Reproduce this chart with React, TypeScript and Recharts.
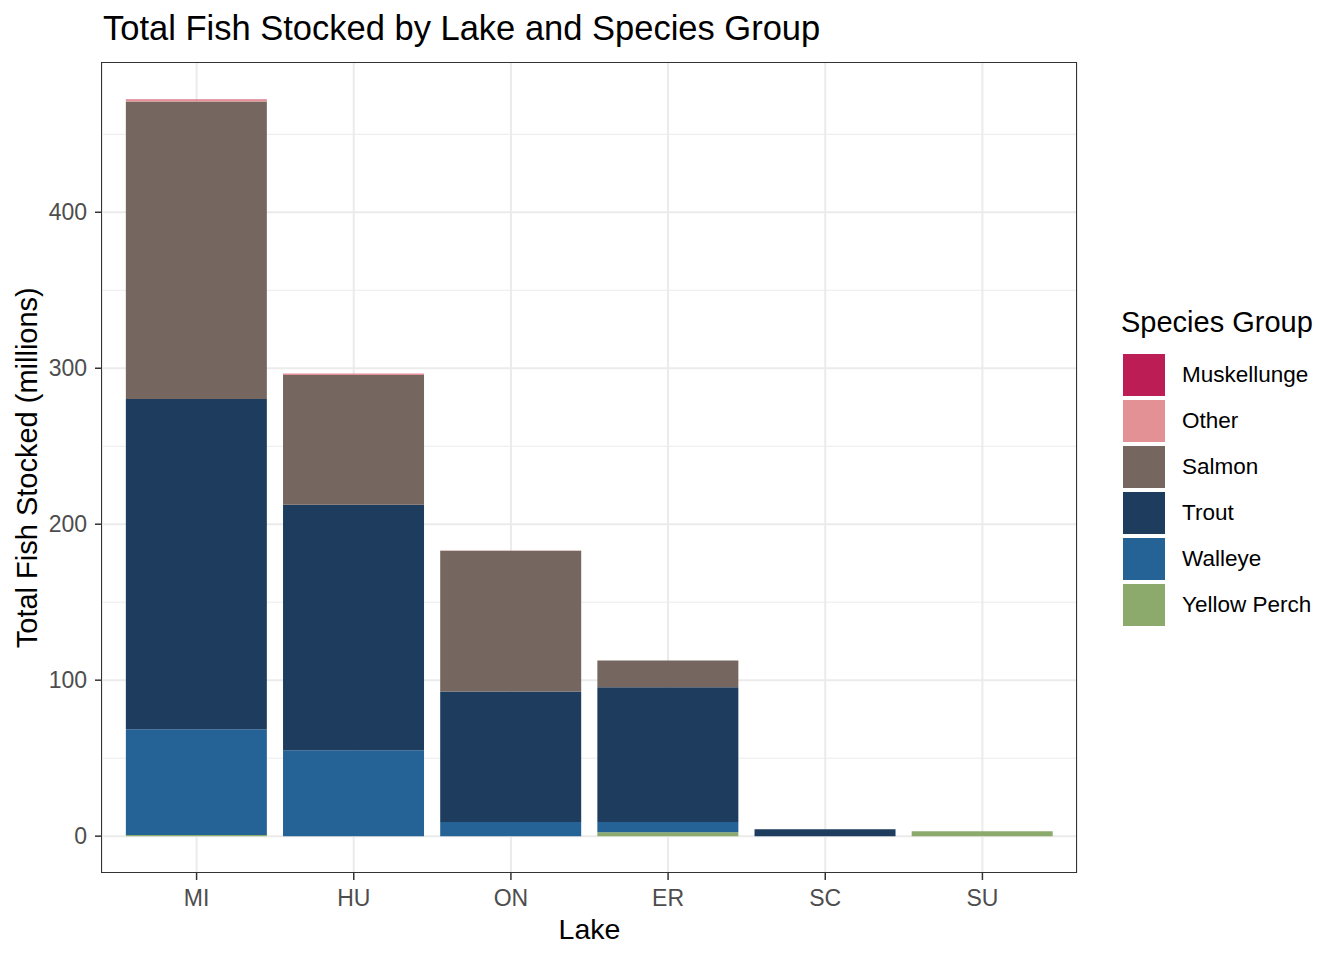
import React from 'react'
import { BarChart, Bar, XAxis, YAxis, CartesianGrid } from 'recharts'

const lakes = ['MI', 'HU', 'ON', 'ER', 'SC', 'SU']
const muskellunge = [0.1, 0.1, 0, 0, 0, 0]
const other = [1.3, 0.6, 0.1, 0.1, 0, 0]
const salmon = [190.7, 83.2, 90.2, 17.2, 0, 0]
const trout = [211.8, 157.5, 83.8, 86.4, 4.5, 0]
const walleye = [67.8, 55, 9, 6.5, 0, 0]
const yellowPerch = [0.7, 0, 0, 2.5, 0, 3.2]

const speciesGroups = ['Muskellunge', 'Other', 'Salmon', 'Trout', 'Walleye', 'Yellow Perch']
const speciesColors = ['#BC1D55', '#E39194', '#756760', '#1E3D5E', '#256295', '#8BAA6C']
const speciesValues = [muskellunge, other, salmon, trout, walleye, yellowPerch]

const majorTicks = [0, 100, 200, 300, 400]
const minorTicks = [50, 150, 250, 350, 450]

const FONT = '"Liberation Sans", Arial, sans-serif'

// plot panel box (ggplot panel), used for the chart margins and the panel border
const PANEL = { left: 102, top: 62.5, right: 1077, bottom: 873 }

const data = lakes.map((lake, i) => {
  const row: Record<string, number | string> = { lake }
  speciesGroups.forEach((g, j) => {
    row[g] = speciesValues[j][i]
  })
  return row
})

const maxTotal = Math.max(...lakes.map((_, i) => speciesValues.reduce((s, v) => s + v[i], 0)))
const yDomain: [number, number] = [-0.05 * maxTotal, maxTotal * 1.05]

export default function App() {
  // ggplot stacks the first level on top, recharts stacks the first Bar at the bottom
  const stackOrder = speciesGroups.map((g, i) => ({ g, c: speciesColors[i] })).reverse()

  return (
    <div style={{ position: 'absolute', left: 0, top: 0, width: 1344, height: 960, background: '#fff', fontFamily: FONT }}>
      <div style={{ position: 'absolute', left: 103, top: 9, fontSize: 34.5, color: '#000', whiteSpace: 'nowrap' }}>
        Total Fish Stocked by Lake and Species Group
      </div>

      <BarChart
        width={1344}
        height={960}
        data={data}
        margin={{ top: PANEL.top, right: 1344 - PANEL.right, bottom: 0, left: 0 }}
        barCategoryGap="5%"
        style={{ fontFamily: FONT }}
      >
        <CartesianGrid horizontalValues={minorTicks} vertical={false} stroke="#EBEBEB" strokeWidth={1} />
        <CartesianGrid horizontalValues={majorTicks} stroke="#EBEBEB" strokeWidth={2} />
        <XAxis
          dataKey="lake"
          height={960 - PANEL.bottom}
          padding={{ left: 16, right: 16 }}
          tickSize={7}
          tickMargin={10}
          tick={{ fill: '#4D4D4D', fontSize: 23 }}
          tickLine={{ stroke: '#333333', strokeWidth: 1.5 }}
          axisLine={false}
          label={{ value: 'Lake', position: 'insideBottom', offset: 21, fill: '#000', fontSize: 28.5 }}
        />
        <YAxis
          width={PANEL.left}
          domain={yDomain}
          allowDataOverflow
          ticks={majorTicks}
          tickSize={7}
          tickMargin={8}
          tick={{ fill: '#4D4D4D', fontSize: 23 }}
          tickLine={{ stroke: '#333333', strokeWidth: 1.5 }}
          axisLine={false}
          label={{
            value: 'Total Fish Stocked (millions)',
            angle: -90,
            position: 'insideLeft',
            offset: 27,
            fill: '#000',
            fontSize: 29,
            style: { textAnchor: 'middle' },
          }}
        />
        {stackOrder.map(({ g, c }) => (
          <Bar key={g} dataKey={g} stackId="lake" fill={c} isAnimationActive={false} />
        ))}
      </BarChart>

      <div
        style={{
          position: 'absolute',
          left: PANEL.left - 0.75,
          top: PANEL.top - 0.75,
          width: PANEL.right - PANEL.left - 1.5,
          height: PANEL.bottom - PANEL.top - 1.5,
          border: '1.5px solid #333333',
          pointerEvents: 'none',
        }}
      />

      <div style={{ position: 'absolute', left: 1121, top: 305, color: '#000' }}>
        <div style={{ fontSize: 29, lineHeight: '34px', marginBottom: 13 }}>Species Group</div>
        {speciesGroups.map((g, i) => (
          <div key={g} style={{ display: 'flex', alignItems: 'center', height: 46 }}>
            <div style={{ width: 42, height: 42, background: speciesColors[i], marginLeft: 2 }} />
            <div style={{ marginLeft: 17, fontSize: 22.5 }}>{g}</div>
          </div>
        ))}
      </div>
    </div>
  )
}
